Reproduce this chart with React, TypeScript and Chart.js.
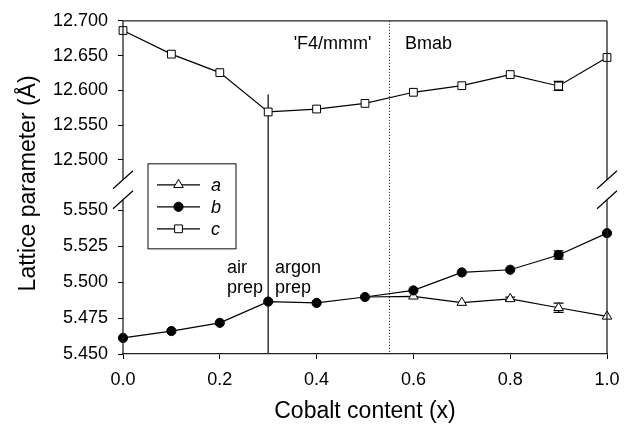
import React, { useEffect, useRef } from "react";
import { Chart, registerables } from "chart.js";

Chart.register(...registerables);

const FONT = "'Liberation Sans', Arial, Helvetica, sans-serif";

// ---- data ----
const cobaltContent = [0.0, 0.1, 0.2, 0.3, 0.4, 0.5, 0.6, 0.7, 0.8, 0.9, 1.0];
const aValues: (number | null)[] = [null, null, null, null, null, 5.4897, 5.4902, 5.4858, 5.4884, 5.4822, 5.4762];
const bValues = [5.4612, 5.466, 5.4717, 5.4865, 5.4856, 5.4897, 5.4943, 5.5068, 5.5087, 5.519, 5.5342];
const cValues = [12.686, 12.652, 12.6254, 12.5688, 12.573, 12.5811, 12.5971, 12.6066, 12.6226, 12.6062, 12.6472];
const aErrors = [0, 0, 0, 0, 0, 0, 0, 0, 0.0012, 0.0032, 0];
const bErrors = [0, 0, 0, 0, 0, 0, 0, 0, 0, 0.0029, 0];
const cErrors = [0, 0, 0, 0, 0, 0, 0, 0, 0, 0.0065, 0];

const xTicks = [0.0, 0.2, 0.4, 0.6, 0.8, 1.0];
const upperTicks = [12.5, 12.55, 12.6, 12.65, 12.7];
const lowerTicks = [5.45, 5.475, 5.5, 5.525, 5.55];

const upperRange = [12.4609, 12.7];
const lowerRange = [5.45, 5.5664];

const prepBoundary = 0.3;
const phaseBoundary = 0.55;
const prepLineTop = 12.594;

const seriesNames = ["a", "b", "c"];

// ---- plugin ----
const overlayPlugin = {
  id: "overlay",
  beforeDatasetsDraw(chart: any) {
    const ctx: CanvasRenderingContext2D = chart.ctx;
    const x = chart.scales.x;
    const yUp = chart.scales.yUp;
    const yLow = chart.scales.yLow;
    const area = chart.chartArea;
    ctx.save();
    // prep boundary (solid)
    const px = x.getPixelForValue(prepBoundary);
    ctx.strokeStyle = "#333";
    ctx.lineWidth = 1.5;
    ctx.beginPath();
    ctx.moveTo(px, yUp.getPixelForValue(prepLineTop));
    ctx.lineTo(px, area.bottom);
    ctx.stroke();
    // phase boundary (dotted)
    const dx = Math.round(x.getPixelForValue(phaseBoundary)) + 0.5;
    ctx.strokeStyle = "#000";
    ctx.lineWidth = 1;
    ctx.setLineDash([1, 2]);
    ctx.beginPath();
    ctx.moveTo(dx, area.top);
    ctx.lineTo(dx, area.bottom);
    ctx.stroke();
    ctx.setLineDash([]);
    // error bars
    const drawErr = (vals: (number | null)[], errs: number[], scale: any) => {
      vals.forEach((v, i) => {
        if (v == null || !errs[i]) return;
        const cx = x.getPixelForValue(cobaltContent[i]);
        const t = scale.getPixelForValue(v + errs[i]);
        const b = scale.getPixelForValue(v - errs[i]);
        ctx.strokeStyle = "#000";
        ctx.lineWidth = 1.2;
        ctx.beginPath();
        ctx.moveTo(cx, t);
        ctx.lineTo(cx, b);
        ctx.moveTo(cx - 5, t);
        ctx.lineTo(cx + 5, t);
        ctx.moveTo(cx - 5, b);
        ctx.lineTo(cx + 5, b);
        ctx.stroke();
      });
    };
    drawErr(aValues, aErrors, yLow);
    drawErr(bValues, bErrors, yLow);
    drawErr(cValues, cErrors, yUp);
    ctx.restore();
  },
  afterDraw(chart: any) {
    const ctx: CanvasRenderingContext2D = chart.ctx;
    const x = chart.scales.x;
    const yUp = chart.scales.yUp;
    const yLow = chart.scales.yLow;
    const area = chart.chartArea;
    ctx.save();
    // frame lines with axis break
    const breakTop = area.top + 159;
    const breakBottom = area.top + 179;
    ctx.strokeStyle = "#222";
    ctx.lineWidth = 1.3;
    ctx.beginPath();
    ctx.moveTo(area.left, area.top);
    ctx.lineTo(area.right, area.top);
    [area.left, area.right].forEach((lx) => {
      ctx.moveTo(lx, area.top);
      ctx.lineTo(lx, breakTop);
      ctx.moveTo(lx, breakBottom);
      ctx.lineTo(lx, area.bottom);
    });
    ctx.stroke();
    ctx.lineWidth = 1.2;
    ctx.strokeStyle = "#000";
    ctx.beginPath();
    [area.left, area.right].forEach((lx) => {
      [breakTop, breakBottom].forEach((by) => {
        ctx.moveTo(lx - 10, by + 9);
        ctx.lineTo(lx + 10, by - 9);
      });
    });
    ctx.stroke();

    // annotations
    ctx.fillStyle = "#000";
    ctx.font = `18px ${FONT}`;
    ctx.textBaseline = "alphabetic";
    ctx.textAlign = "center";
    ctx.fillText("'F4/mmm'", x.getPixelForValue(0.433), yUp.getPixelForValue(12.659));
    ctx.fillText("Bmab", x.getPixelForValue(0.631), yUp.getPixelForValue(12.659));
    ctx.textAlign = "left";
    ctx.fillText("air", x.getPixelForValue(0.215), yLow.getPixelForValue(5.5064));
    ctx.fillText("prep", x.getPixelForValue(0.215), yLow.getPixelForValue(5.4923));
    ctx.fillText("argon", x.getPixelForValue(0.314), yLow.getPixelForValue(5.5064));
    ctx.fillText("prep", x.getPixelForValue(0.314), yLow.getPixelForValue(5.4923));

    // y-axis title
    ctx.save();
    ctx.translate(35, (area.top + area.bottom) / 2 - 4);
    ctx.rotate(-Math.PI / 2);
    ctx.textAlign = "center";
    ctx.textBaseline = "alphabetic";
    ctx.font = `23px ${FONT}`;
    ctx.fillText("Lattice parameter (Å)", 0, 0);
    ctx.restore();

    // legend
    const lx = area.left + 25;
    const ly = area.top + 143;
    ctx.fillStyle = "#fff";
    ctx.fillRect(lx, ly, 88, 85);
    ctx.strokeStyle = "#333";
    ctx.lineWidth = 1.2;
    ctx.strokeRect(lx, ly, 88, 85);
    seriesNames.forEach((name, i) => {
      const ey = ly + 21 + i * 22;
      const ds = chart.data.datasets[i];
      ctx.strokeStyle = "#000";
      ctx.lineWidth = 1.2;
      ctx.beginPath();
      ctx.moveTo(lx + 9, ey);
      ctx.lineTo(lx + 52, ey);
      ctx.stroke();
      const mx = lx + 30.5;
      ctx.fillStyle = ds.pointBackgroundColor;
      ctx.strokeStyle = "#000";
      ctx.lineWidth = 1;
      ctx.beginPath();
      if (ds.pointStyle === "triangle") {
        const r = 5.5;
        ctx.moveTo(mx, ey - r);
        ctx.lineTo(mx + r * 0.866, ey + r / 2);
        ctx.lineTo(mx - r * 0.866, ey + r / 2);
        ctx.closePath();
      } else if (ds.pointStyle === "circle") {
        ctx.arc(mx, ey, 4.6, 0, Math.PI * 2);
      } else {
        const s = 5.5 * Math.SQRT1_2;
        ctx.rect(mx - s, ey - s, 2 * s, 2 * s);
      }
      ctx.fill();
      ctx.stroke();
      ctx.fillStyle = "#000";
      ctx.font = `italic 18px ${FONT}`;
      ctx.textAlign = "left";
      ctx.textBaseline = "middle";
      ctx.fillText(name, lx + 63, ey + 1);
    });
    ctx.restore();
  },
};

const tickFont = { family: FONT, size: 18 };

export default function App() {
  const ref = useRef<HTMLCanvasElement>(null);
  useEffect(() => {
    if (!ref.current) return;
    const pts = (vals: (number | null)[]) => cobaltContent.map((xv, i) => ({ x: xv, y: vals[i] }));
    const chart = new Chart(ref.current, {
      type: "line",
      data: {
        datasets: [
          {
            label: "a",
            data: pts(aValues) as any,
            yAxisID: "yLow",
            borderColor: "#000",
            borderWidth: 1.2,
            pointStyle: "triangle",
            pointRadius: (c: any) => (aValues[c.dataIndex] === bValues[c.dataIndex] ? 0 : 5.5),
            pointBackgroundColor: "#fff",
            pointBorderColor: "#000",
            pointBorderWidth: 1,
            order: 1,
            clip: false as any,
          },
          {
            label: "b",
            data: pts(bValues) as any,
            yAxisID: "yLow",
            borderColor: "#000",
            borderWidth: 1.2,
            pointStyle: "circle",
            pointRadius: 4.6,
            pointBackgroundColor: "#000",
            pointBorderColor: "#000",
            pointBorderWidth: 1,
            order: 0,
            clip: false as any,
          },
          {
            label: "c",
            data: pts(cValues) as any,
            yAxisID: "yUp",
            borderColor: "#000",
            borderWidth: 1.2,
            pointStyle: "rect",
            pointRadius: 5.5,
            pointBackgroundColor: "#fff",
            pointBorderColor: "#000",
            pointBorderWidth: 1,
            order: 2,
            clip: false as any,
          },
        ],
      },
      options: {
        animation: false,
        responsive: false,
        layout: { padding: { left: 0, top: 15, right: 25, bottom: 0 } },
        plugins: { legend: { display: false }, tooltip: { enabled: false } },
        events: [],
        scales: {
          x: {
            type: "linear",
            position: "bottom",
            min: 0,
            max: 1,
            afterBuildTicks: (s: any) => {
              s.ticks = xTicks.map((v) => ({ value: v }));
            },
            afterFit: (s: any) => {
              s.height = 75;
            },
            ticks: {
              callback: (v: any) => Number(v).toFixed(1),
              font: tickFont,
              color: "#000",
              padding: 10,
              maxRotation: 0,
            },
            grid: { drawOnChartArea: false, color: "#000", tickLength: 5 },
            border: { color: "#222", width: 1.3 },
            title: {
              display: true,
              text: "Cobalt content (x)",
              font: { family: FONT, size: 23 },
              color: "#000",
              padding: { top: 0, bottom: 4 },
            },
          },
          yLow: {
            type: "linear",
            position: "left",
            stack: "y",
            stackWeight: 170,
            min: lowerRange[0],
            max: lowerRange[1],
            afterBuildTicks: (s: any) => {
              s.ticks = lowerTicks.map((v) => ({ value: v }));
            },
            afterFit: (s: any) => {
              s.width = 123;
            },
            ticks: {
              callback: (v: any) => Number(v).toFixed(3),
              font: tickFont,
              color: "#000",
              padding: 10,
            },
            grid: { drawOnChartArea: false, color: "#000", tickLength: 5 },
            border: { display: false },
          },
          yUp: {
            type: "linear",
            position: "left",
            stack: "y",
            stackWeight: 169,
            min: upperRange[0],
            max: upperRange[1],
            afterBuildTicks: (s: any) => {
              s.ticks = upperTicks.map((v) => ({ value: v }));
            },
            afterFit: (s: any) => {
              s.width = 123;
            },
            ticks: {
              callback: (v: any) => Number(v).toFixed(3),
              font: tickFont,
              color: "#000",
              padding: 10,
            },
            grid: { drawOnChartArea: false, color: "#000", tickLength: 5 },
            border: { display: false },
          },
        } as any,
      },
      plugins: [overlayPlugin],
    });
    return () => chart.destroy();
  }, []);
  return (
    <div style={{ position: "absolute", left: 0, top: 0, width: 632, height: 429, background: "#fff" }}>
      <canvas ref={ref} width={632} height={429} style={{ display: "block" }} />
    </div>
  );
}
